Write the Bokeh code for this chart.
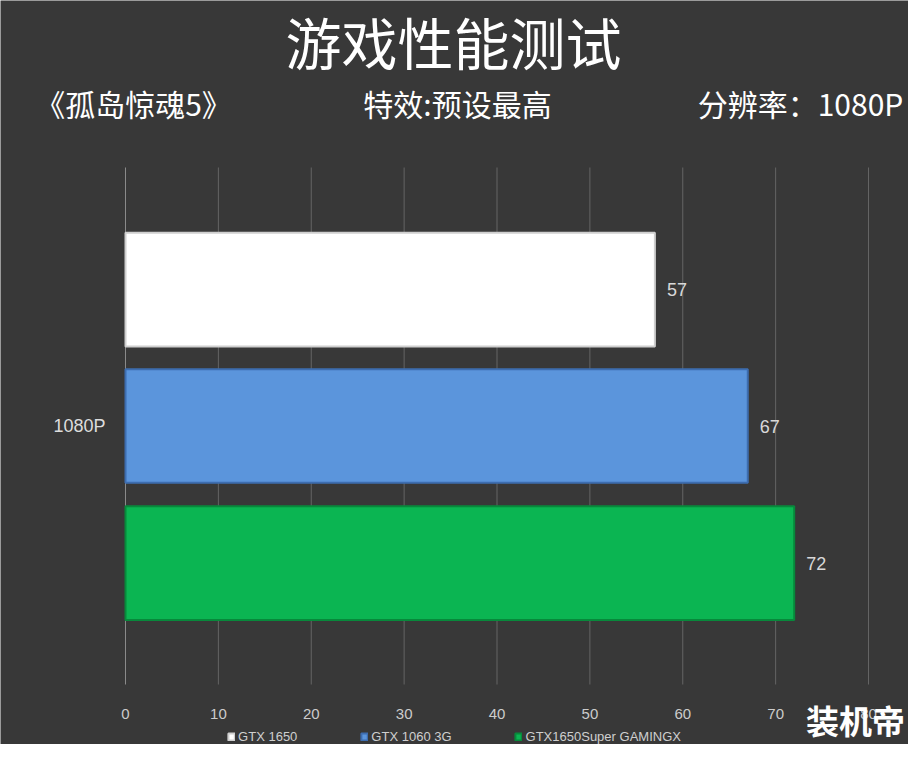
from bokeh.plotting import figure
from bokeh.models import ColumnDataSource, Legend, LegendItem, Range1d
from bokeh.core.properties import value
from bokeh.embed import file_html
from bokeh.resources import INLINE

# ---- data ----
category = ["1080P"]
series_names = ["GTX 1650", "GTX 1060 3G", "GTX1650Super GAMINGX"]
series_values = [57, 67, 72]
x_ticks = [0, 10, 20, 30, 40, 50, 60, 70, 80]

title_text = "游戏性能测试"
sub_texts = ["《孤岛惊魂5》", "特效:预设最高", "分辨率：1080P"]
watermark = "装机帝"

# ---- styles / layout ----
fills = ["#ffffff", "#5b95dc", "#0bb552"]
lines = ["#cfcfcf", "#3d6db0", "#07893b"]
offsets = [0.264, 0.0, -0.265]      # bar positions inside the category band
BAR_H = 0.22
BG = "#383838"
CJK = "Noto Sans CJK SC"
LAT = "Liberation Sans"
W, H = 908, 744
# plot area in canvas pixels
PL, PR, PT, PB = 125, 868, 167, 684
XMAX = x_ticks[-1]
sx = (PR - PL) / XMAX               # px per x unit
sy = (PB - PT)                      # px per category band (0..1)


def rx(px):
    return (px - PL) / sx


def ry(py):
    return (PB - py) / sy


p = figure(width=W, height=H, output_backend="svg", toolbar_location=None,
           x_range=Range1d(rx(0), rx(W)), y_range=Range1d(ry(H), ry(0)),
           min_border=0, min_border_left=0, min_border_right=0,
           min_border_top=0, min_border_bottom=0)
p.axis.visible = False
p.grid.visible = False
p.background_fill_color = BG
p.border_fill_color = BG
p.outline_line_color = None

# vertical grid lines at the tick values (band 0..1)
grid_colors = ["#8a8a8a"] + ["#646464"] * (len(x_ticks) - 1)
p.segment(x0=x_ticks, y0=[0] * len(x_ticks), x1=x_ticks, y1=[1] * len(x_ticks),
          line_color=grid_colors, line_width=1)

# x tick labels
p.text(x=x_ticks, y=[ry(713)] * len(x_ticks), text=[str(t) for t in x_ticks],
       text_align="center", text_baseline="middle", text_color="#cccccc",
       text_font=value(LAT), text_font_size="15px")

# category label
p.text(x=[rx(105)], y=[0.5], text=category, text_align="right",
       text_baseline="middle", text_color="#dddddd", text_font=value(LAT),
       text_font_size="18px")

# bars + value labels
renderers = []
for name, val, fc, lc, off in zip(series_names, series_values, fills, lines, offsets):
    src = ColumnDataSource(dict(y=[0.5 + off], right=[val], lab=[str(val)]))
    r = p.hbar(y="y", right="right", left=0, height=BAR_H, source=src,
               fill_color=fc, line_color=lc, line_width=2)
    renderers.append(r)
    p.text(x="right", y="y", text="lab", source=src, x_offset=12,
           text_align="left", text_baseline="middle", text_font_size="18px",
           text_color="#d8d8d8", text_font=value(LAT))

# titles
p.text(x=[rx(453)], y=[ry(40)], text=[title_text], text_align="center",
       text_baseline="middle", text_color="#ffffff", text_font=value(CJK),
       text_font_size="56px")
p.text(x=[rx(133), rx(457), rx(800)], y=[ry(102)] * 3, text=sub_texts,
       text_align="center", text_baseline="middle", text_color="#ffffff",
       text_font=value(CJK), text_font_size="30px")

# watermark
p.text(x=[rx(855)], y=[ry(719)], text=[watermark], text_align="center",
       text_baseline="middle", text_color="#ffffff", text_font=value(CJK),
       text_font_size="33px", text_font_style="bold")

# legend
legend = Legend(items=[LegendItem(label=n, renderers=[r])
                       for n, r in zip(series_names, renderers)],
                orientation="horizontal", location="bottom_center",
                background_fill_alpha=0, border_line_color=None,
                label_text_color="#cfcfcf", label_text_font=LAT,
                label_text_font_size="13px", glyph_width=8, glyph_height=9,
                label_standoff=3, spacing=63, padding=2, margin=0)
p.add_layout(legend)

open("out.html", "w").write(file_html(p, INLINE))
